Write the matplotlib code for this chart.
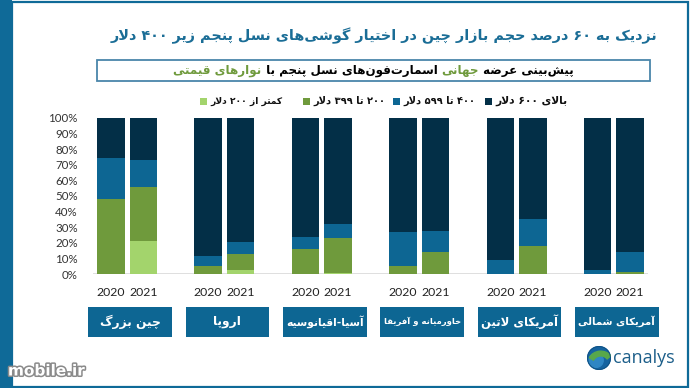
import matplotlib
matplotlib.use("Agg")
import matplotlib.pyplot as plt
import matplotlib.patches as mpatches
import matplotlib.transforms as mtrans
import matplotlib.patheffects as pe
import numpy as np

# ---------------- data ----------------
regions = ["چین بزرگ", "اروپا", "آسیا-اقیانوسیه", "خاورمیانه و آفریقا", "آمریکای لاتین", "آمریکای شمالی"]
years = ["2020", "2021"]
series_labels = ["کمتر از ۲۰۰ دلار", "۲۰۰ تا ۳۹۹ دلار", "۴۰۰ تا ۵۹۹ دلار", "بالای ۶۰۰ دلار"]

lt200_2020 = [0, 0, 0, 0, 0, 0]
lt200_2021 = [21, 2.5, 1, 0, 0, 0]
p200_399_2020 = [48, 5.5, 16, 5, 0, 0]
p200_399_2021 = [35, 10.5, 22, 14, 18, 1.7]
p400_599_2020 = [26, 6.5, 8, 22, 9, 2.5]
p400_599_2021 = [17, 7.5, 9, 13.5, 17, 12.3]
gt600_2020 = [26, 88, 76, 73, 91, 97.5]
gt600_2021 = [27, 79.5, 68, 72.5, 65, 86]

yticks = [0, 10, 20, 30, 40, 50, 60, 70, 80, 90, 100]

title_text = "نزدیک به ۶۰ درصد حجم بازار چین در اختیار گوشی‌های نسل پنجم زیر ۴۰۰ دلار"
subtitle_parts = ["پیش‌بینی عرضه ", "جهانی", " اسمارت‌فون‌های نسل پنجم با ", "نوارهای قیمتی"]

# ---------------- minimal Persian shaping + bidi ----------------
_F = {
    'ا': (0xFE8D, 0xFE8E), 'آ': (0xFE81, 0xFE82),
    'د': (0xFEA9, 0xFEAA), 'ذ': (0xFEAB, 0xFEAC), 'ر': (0xFEAD, 0xFEAE),
    'ز': (0xFEAF, 0xFEB0), 'ژ': (0xFB8A, 0xFB8B), 'و': (0xFEED, 0xFEEE),
    'ب': (0xFE8F, 0xFE90, 0xFE91, 0xFE92), 'پ': (0xFB56, 0xFB57, 0xFB58, 0xFB59),
    'ت': (0xFE95, 0xFE96, 0xFE97, 0xFE98), 'ث': (0xFE99, 0xFE9A, 0xFE9B, 0xFE9C),
    'ج': (0xFE9D, 0xFE9E, 0xFE9F, 0xFEA0), 'چ': (0xFB7A, 0xFB7B, 0xFB7C, 0xFB7D),
    'ح': (0xFEA1, 0xFEA2, 0xFEA3, 0xFEA4), 'خ': (0xFEA5, 0xFEA6, 0xFEA7, 0xFEA8),
    'س': (0xFEB1, 0xFEB2, 0xFEB3, 0xFEB4), 'ش': (0xFEB5, 0xFEB6, 0xFEB7, 0xFEB8),
    'ص': (0xFEB9, 0xFEBA, 0xFEBB, 0xFEBC), 'ض': (0xFEBD, 0xFEBE, 0xFEBF, 0xFEC0),
    'ط': (0xFEC1, 0xFEC2, 0xFEC3, 0xFEC4), 'ظ': (0xFEC5, 0xFEC6, 0xFEC7, 0xFEC8),
    'ع': (0xFEC9, 0xFECA, 0xFECB, 0xFECC), 'غ': (0xFECD, 0xFECE, 0xFECF, 0xFED0),
    'ف': (0xFED1, 0xFED2, 0xFED3, 0xFED4), 'ق': (0xFED5, 0xFED6, 0xFED7, 0xFED8),
    'ک': (0xFB8E, 0xFB8F, 0xFB90, 0xFB91), 'گ': (0xFB92, 0xFB93, 0xFB94, 0xFB95),
    'ل': (0xFEDD, 0xFEDE, 0xFEDF, 0xFEE0), 'م': (0xFEE1, 0xFEE2, 0xFEE3, 0xFEE4),
    'ن': (0xFEE5, 0xFEE6, 0xFEE7, 0xFEE8), 'ه': (0xFEE9, 0xFEEA, 0xFEEB, 0xFEEC),
    'ی': (0xFBFC, 0xFBFD, 0xFBFE, 0xFBFF),
}
_LAMALEF = {'ا': (0xFEFB, 0xFEFC), 'آ': (0xFEF5, 0xFEF6)}


def _dual(c):
    return c in _F and len(_F[c]) == 4


def shape(s):
    out = []
    i = 0
    n = len(s)
    while i < n:
        c = s[i]
        prev = s[i - 1] if i > 0 else ''
        if c == 'ل' and i + 1 < n and s[i + 1] in _LAMALEF:
            lf = _LAMALEF[s[i + 1]]
            out.append(chr(lf[1] if _dual(prev) else lf[0]))
            i += 2
            continue
        if c in _F:
            nxt = s[i + 1] if i + 1 < n else ''
            cp = _dual(prev)
            cn = _dual(c) and nxt in _F
            f = _F[c]
            if cp and cn:
                g = f[3]
            elif cp:
                g = f[1]
            elif cn:
                g = f[2]
            else:
                g = f[0]
            out.append(chr(g))
        elif c != '\u200c':
            out.append(c)
        i += 1
    return ''.join(out)


def _is_ltr(c):
    return c.isdigit() or ('a' <= c.lower() <= 'z') or c in '%.'


def fa(s):
    s = shape(s)
    runs = []
    for c in s:
        t = _is_ltr(c)
        if runs and runs[-1][0] == t:
            runs[-1][1].append(c)
        else:
            runs.append([t, [c]])
    res = []
    for t, chars in reversed(runs):
        res.append(''.join(chars) if t else ''.join(reversed(chars)))
    return ''.join(res)


# ---------------- style ----------------
C_LT = "#a3d46c"
C_GR = "#6f9a3c"
C_BL = "#0d6693"
C_NV = "#032f47"
C_FRAME = "#0f6a98"
C_TITLE = "#1a6d96"
FA = ['DejaVu Sans']

W, H = 690, 388
fig = plt.figure(figsize=(W / 100, H / 100), dpi=100)
fig.patch.set_facecolor("white")


def fx(x):
    return x / W


def fy(y):
    return 1 - y / H


renderer = fig.canvas.get_renderer()


def fit(t, maxw):
    w = t.get_window_extent(renderer).width
    if w > maxw:
        t.set_fontsize(t.get_fontsize() * maxw / w)


# frame
fig.patches.append(mpatches.Rectangle((0, 0), fx(12), 1, transform=fig.transFigure,
                                      facecolor=C_FRAME, edgecolor='none', zorder=0))
fig.patches.append(mpatches.Rectangle((fx(12), fy(386.5)), fx(675.5), fy(1.5) - fy(386.5),
                                      transform=fig.transFigure, facecolor='none',
                                      edgecolor=C_FRAME, linewidth=1.6, zorder=0))

# axes
x_left, x_right = 93, 648
y_top, y_bot = 117.7, 274.3
ax = fig.add_axes([fx(x_left), fy(y_bot), fx(x_right) - fx(x_left), fy(y_top) - fy(y_bot)])
ax.set_facecolor('none')

n = len(regions)
centers = np.arange(n)
off = 0.167
bw = 0.283
x20 = centers - off
x21 = centers + off

series20 = [lt200_2020, p200_399_2020, p400_599_2020, gt600_2020]
series21 = [lt200_2021, p200_399_2021, p400_599_2021, gt600_2021]
colors = [C_LT, C_GR, C_BL, C_NV]

b20 = np.zeros(n)
b21 = np.zeros(n)
for s20, s21, col in zip(series20, series21, colors):
    ax.bar(x20, s20, bw, bottom=b20, color=col, edgecolor='none', zorder=2)
    ax.bar(x21, s21, bw, bottom=b21, color=col, edgecolor='none', zorder=2)
    b20 += np.array(s20)
    b21 += np.array(s21)

ax.set_xlim(-0.35, n - 1 + 0.35)
ax.set_ylim(0, 100)
ax.axhline(0, color='#d9d9d9', lw=1.2, zorder=1)
for sp in ax.spines.values():
    sp.set_visible(False)
ax.set_yticks(yticks)
ax.set_yticklabels([f"{v}%" for v in yticks], fontfamily='Lato', fontsize=8.3, color='#333333')
xt = np.concatenate([x20, x21])
ax.set_xticks(xt)
ax.set_xticklabels([years[0]] * n + [years[1]] * n, fontfamily='Lato', fontsize=8.8, color='#222222')
ax.tick_params(axis='y', length=0, pad=11)
ax.tick_params(axis='x', length=0, pad=9)

# category boxes
bt = mtrans.blended_transform_factory(ax.transData, fig.transFigure)
box_w = 0.86
for i, r in enumerate(regions):
    cx = centers[i] + 0.03
    fig.patches.append(mpatches.Rectangle((cx - box_w / 2, fy(336.5)), box_w, fy(306.5) - fy(336.5),
                                          transform=bt, facecolor=C_BL, edgecolor='none'))
    tt = fig.text(cx, fy(321.5), fa(r), transform=bt, ha='center', va='center', color='white',
                  fontsize=8.8, fontweight='bold', family=FA)
    fit(tt, 77)

# title
t = fig.text(fx(384), fy(36), fa(title_text), ha='center', va='center', color=C_TITLE,
             fontsize=14, fontweight='bold', family=FA)
bb = t.get_window_extent(renderer)
t.set_fontsize(14 * 550 / bb.width)

# subtitle box
fig.patches.append(mpatches.Rectangle((fx(97), fy(81)), fx(650) - fx(97), fy(60) - fy(81),
                                      transform=fig.transFigure, facecolor='white',
                                      edgecolor='#4a86aa', linewidth=1.3))
sub_colors = ['black', C_GR, 'black', C_GR]
sub_fs = 8.6
pieces = []
for p, c in zip(subtitle_parts, sub_colors):
    tt = fig.text(0, fy(70.5), fa(p), ha='right', va='center', color=c, fontsize=sub_fs,
                  fontweight='bold', family=FA)
    pieces.append(tt)
widths = [pc.get_window_extent(renderer).width for pc in pieces]
total = sum(widths)
right = (97 + 650) / 2 + total / 2
for pc, w in zip(pieces, widths):
    pc.set_x(fx(right))
    right -= w

# legend
leg_x = [200, 303, 393, 485]
for lx, lab, col in zip(leg_x, series_labels, colors):
    fig.patches.append(mpatches.Rectangle((fx(lx), fy(105)), fx(7), fy(98) - fy(105),
                                          transform=fig.transFigure, facecolor=col, edgecolor='none'))
    tt = fig.text(fx(lx + 10), fy(101), fa(lab), ha='left', va='center', color='#111111',
                  fontsize=7.8, fontweight='bold', family=FA)
    fit(tt, 72)

# canalys logo
lax = fig.add_axes([fx(587), fy(370), fx(24), fy(346) - fy(370)])
lax.set_aspect('equal')
lax.axis('off')
lax.set_xlim(-1.05, 1.05)
lax.set_ylim(-1.05, 1.05)
lax.add_patch(mpatches.Circle((0, 0), 1, color='#1563a0'))
lax.add_patch(mpatches.Circle((-0.25, -0.2), 0.62, color='#2f86c4'))
lax.add_patch(mpatches.Wedge((0.15, -0.55), 1.15, 40, 150, width=0.42, color='#58a84a'))
lax.add_patch(mpatches.Circle((0, 0), 1, fill=False, color='#0f4f80', lw=0.6))
fig.text(fx(613), fy(358), "canalys", ha='left', va='center', color='#1d5f8a',
         fontsize=13, family='Open Sans')

# watermark
fig.text(fx(8), fy(371), "mobile.ir", ha='left', va='center', color='white', fontsize=11,
         fontweight='bold', family='DejaVu Sans',
         path_effects=[pe.withStroke(linewidth=2.2, foreground='#8a8a8a')])

fig.savefig("out.png", dpi=100, facecolor='white')
